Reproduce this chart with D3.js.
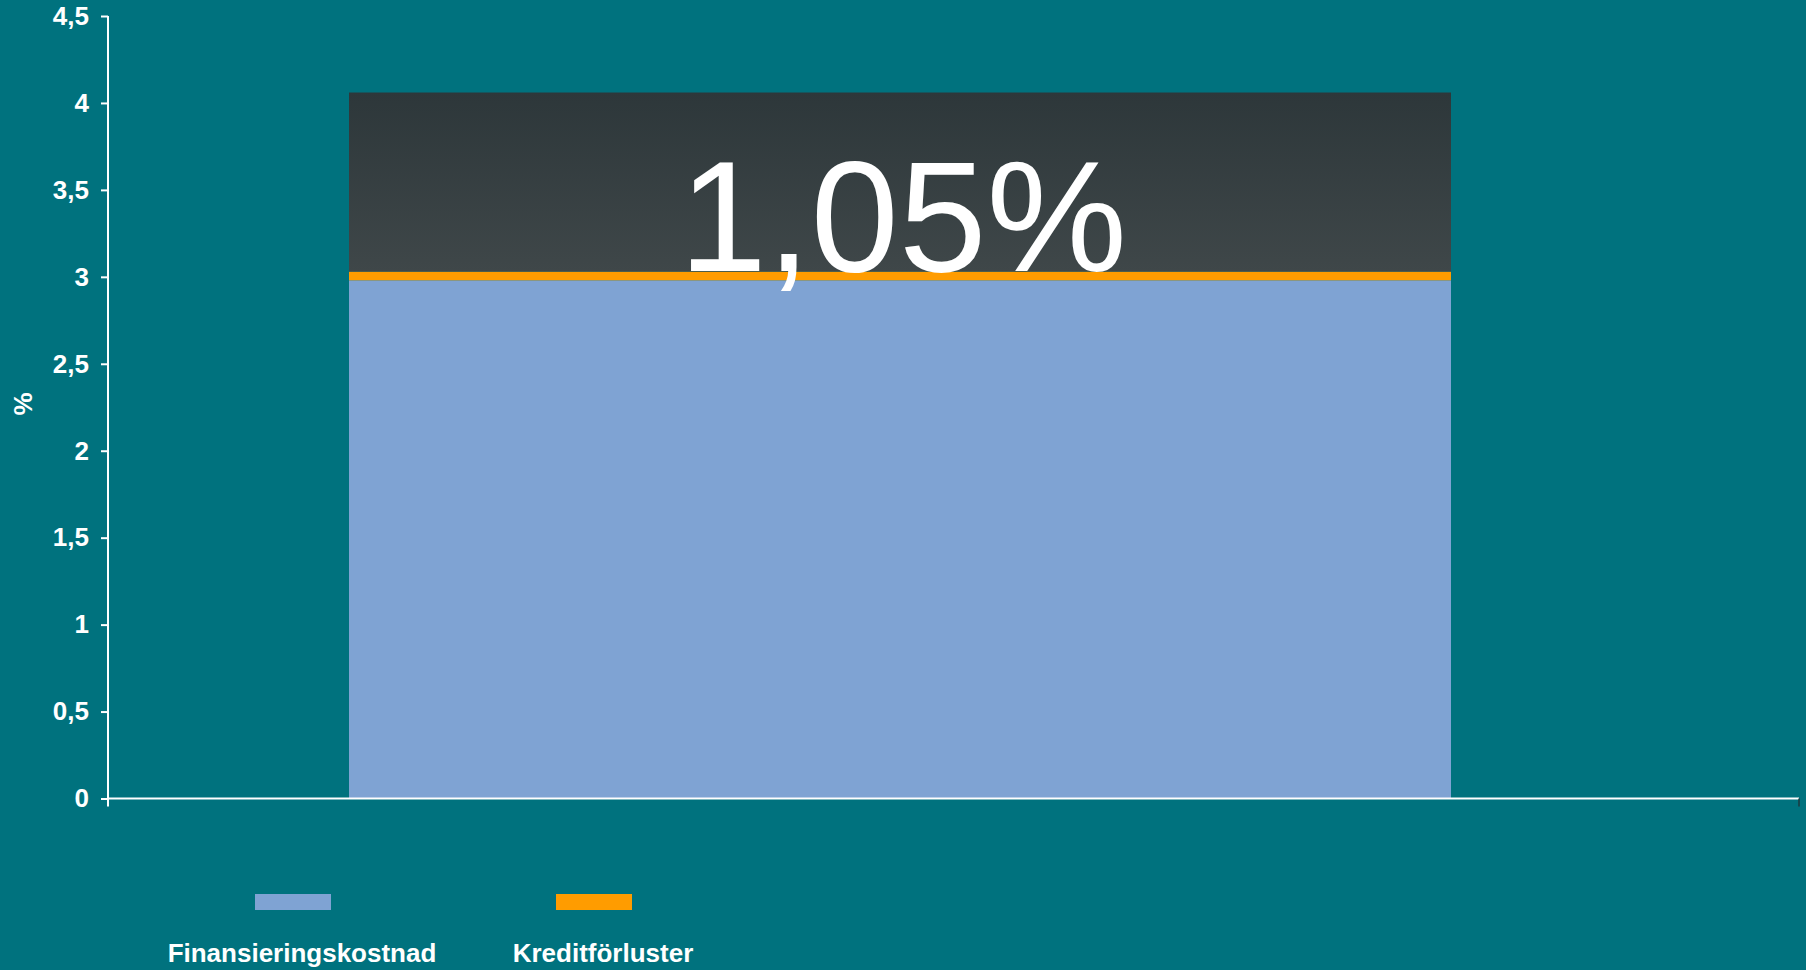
<!DOCTYPE html>
<html>
<head>
<meta charset="utf-8">
<script src="https://cdn.jsdelivr.net/npm/d3@7"></script>
<style>
  body { margin: 0; background: #00727e; }
  svg { display: block; }
  text { font-family: "Liberation Sans", Arial, sans-serif; fill: #fff; }
</style>
</head>
<body>
<svg id="chart" width="1806" height="970"></svg>
<script>
// data
const categories = [""];
const finansiering = [2.98];
const kreditforluster = [0.05];
const marginal = [1.03];
const yTicks = [0, 0.5, 1, 1.5, 2, 2.5, 3, 3.5, 4, 4.5];
const seriesNames = ["Finansieringskostnad", "Kreditförluster"];
const seriesColors = ["#7fa3d3", "#ff9c00"];
const annotation = "1,05%";

const svg = d3.select("#chart");

const y = d3.scaleLinear().domain([0, 4.5]).range([798.5, 16]);
const x = d3.scaleBand().domain(categories).range([349, 1451]).padding(0);

const defs = svg.append("defs");
const grad = defs.append("linearGradient")
    .attr("id", "darkGrad")
    .attr("x1", 0).attr("y1", 0).attr("x2", 0).attr("y2", 1);
grad.append("stop").attr("offset", "0%").attr("stop-color", "#2d373a");
grad.append("stop").attr("offset", "100%").attr("stop-color", "#3f4749");

// stacked bars
const stacked = categories.map((c, i) => {
    const a = finansiering[i], b = kreditforluster[i], m = marginal[i];
    return { c, segs: [
        { y0: 0, y1: a, fill: seriesColors[0] },
        { y0: a, y1: a + b, fill: seriesColors[1] },
        { y0: a + b, y1: a + b + m, fill: "url(#darkGrad)" }
    ]};
});

const bars = svg.append("g").attr("class", "bars");
stacked.forEach(d => {
    bars.selectAll(null)
        .data(d.segs)
        .enter().append("rect")
        .attr("x", x(d.c))
        .attr("width", x.bandwidth())
        .attr("y", s => y(s.y1))
        .attr("height", s => y(s.y0) - y(s.y1))
        .attr("fill", s => s.fill);
});

// annotation text
stacked.forEach(d => {
    const top = d.segs[1].y1;
    svg.append("text")
        .attr("x", x(d.c) + x.bandwidth() / 2 + 3)
        .attr("y", y(top) - 1)
        .attr("text-anchor", "middle")
        .style("font-size", "158px")
        .text(annotation);
});

// y axis
const yAxis = d3.axisLeft(y)
    .tickValues(yTicks)
    .tickSize(7)
    .tickFormat(d => String(d).replace(".", ","));
const gy = svg.append("g")
    .attr("transform", "translate(108,0)")
    .call(yAxis);
gy.select(".domain").remove();
gy.selectAll(".tick line").attr("stroke", "#fff").attr("stroke-width", 2);
gy.selectAll(".tick text")
    .attr("x", -19)
    .style("font-size", "26px")
    .style("font-weight", "bold")
    .attr("fill", "#fff");
gy.append("line")
    .attr("x1", 0).attr("x2", 0)
    .attr("y1", y(4.5)).attr("y2", y(0) + 8)
    .attr("stroke", "#fff").attr("stroke-width", 2);

// x axis line
svg.append("line")
    .attr("x1", 108).attr("x2", 1799)
    .attr("y1", y(0)).attr("y2", y(0))
    .attr("stroke", "#fff").attr("stroke-width", 2);
svg.append("line")
    .attr("x1", 1799).attr("x2", 1799)
    .attr("y1", y(0)).attr("y2", y(0) + 8)
    .attr("stroke", "#1d3a3f").attr("stroke-width", 1.5);

// y label
svg.append("text")
    .attr("transform", "translate(32,404) rotate(-90)")
    .attr("text-anchor", "middle")
    .style("font-size", "26px")
    .style("font-weight", "bold")
    .text("%");

// legend
const legendX = [293, 594];
const legend = svg.append("g").attr("class", "legend");
seriesNames.forEach((name, i) => {
    legend.append("rect")
        .attr("x", legendX[i] - 38)
        .attr("y", 894)
        .attr("width", 76)
        .attr("height", 16)
        .attr("fill", seriesColors[i]);
    legend.append("text")
        .attr("x", legendX[i] + 9)
        .attr("y", 962)
        .attr("text-anchor", "middle")
        .style("font-size", "26px")
        .style("font-weight", "bold")
        .text(name);
});
</script>
</body>
</html>
